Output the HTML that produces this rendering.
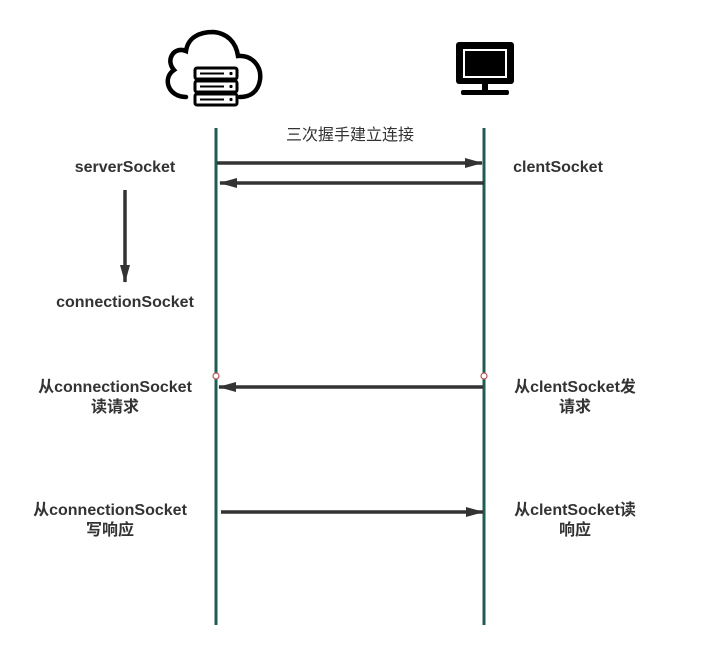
<!DOCTYPE html>
<html><head><meta charset="utf-8"><style>
body{margin:0;background:#fff;}
svg text{font-family:"Liberation Sans","Noto Sans CJK SC",sans-serif;font-size:16px;fill:#333;}
.b{font-weight:bold;}
</style></head><body>
<svg width="702" height="650" xmlns="http://www.w3.org/2000/svg">
<defs><marker id="a" markerWidth="18" markerHeight="12" refX="17" refY="6" orient="auto" markerUnits="userSpaceOnUse" viewBox="0 0 18 12"><path d="M0,1 L18,6 L0,11Z" fill="#333"/></marker>
<marker id="v" markerWidth="12" markerHeight="18" refX="6" refY="17" orient="0" markerUnits="userSpaceOnUse"><path d="M1,0 L11,0 L6,18Z" fill="#333"/></marker></defs>
<!-- cloud icon -->
<path d="M186,97 C168,97 162,78 174,70 C165,60 174,46 186,51 C188,37 200,32 213,32 C227,33 236,42 238,56 C252,55 262,66 260,80 C258,92 250,97 240,97" fill="none" stroke="#000" stroke-width="4.5" stroke-linecap="round"/>
<g fill="#fff" stroke="#000" stroke-width="3">
<rect x="195" y="68" width="42" height="11" rx="2"/>
<rect x="195" y="81" width="42" height="11" rx="2"/>
<rect x="195" y="94" width="42" height="11" rx="2"/>
</g>
<g stroke="#000" stroke-width="2"><line x1="200" y1="73.5" x2="224" y2="73.5"/><line x1="200" y1="86.5" x2="224" y2="86.5"/><line x1="200" y1="99.5" x2="224" y2="99.5"/></g>
<g fill="#000"><circle cx="231" cy="73.5" r="1.6"/><circle cx="231" cy="86.5" r="1.6"/><circle cx="231" cy="99.5" r="1.6"/></g>
<!-- monitor -->
<rect x="456" y="42" width="58" height="42" rx="3" fill="#000"/>
<rect x="464" y="50" width="42" height="27" fill="#000" stroke="#fff" stroke-width="2"/>
<rect x="482" y="84" width="6" height="7" fill="#000"/>
<rect x="461" y="90" width="48" height="5" rx="2" fill="#000"/>
<!-- lifelines -->
<line x1="216" y1="128" x2="216" y2="625" stroke="#1f5c55" stroke-width="3"/>
<line x1="484" y1="128" x2="484" y2="625" stroke="#1f5c55" stroke-width="3"/>
<g stroke="#333" stroke-width="3.5">
<line x1="217" y1="163" x2="482" y2="163" marker-end="url(#a)"/>
<line x1="484" y1="183" x2="220" y2="183" marker-end="url(#a)"/>
<line x1="483" y1="387" x2="219" y2="387" marker-end="url(#a)"/>
<line x1="221" y1="512" x2="483" y2="512" marker-end="url(#a)"/>
<line x1="125" y1="190" x2="125" y2="282" marker-end="url(#v)"/>
</g>
<circle cx="216" cy="376" r="3" fill="#fff" stroke="#b85450" stroke-width="1.2"/>
<circle cx="484" cy="376" r="3" fill="#fff" stroke="#b85450" stroke-width="1.2"/>
<text x="350" y="140" text-anchor="middle">三次握手建立连接</text>
<text class="b" x="125" y="172" text-anchor="middle">serverSocket</text>
<text class="b" x="558" y="172" text-anchor="middle">clentSocket</text>
<text class="b" x="125" y="307" text-anchor="middle">connectionSocket</text>
<text class="b" x="115" y="392" text-anchor="middle">从connectionSocket</text>
<text class="b" x="115" y="412" text-anchor="middle">读请求</text>
<text class="b" x="575" y="392" text-anchor="middle">从clentSocket发</text>
<text class="b" x="575" y="412" text-anchor="middle">请求</text>
<text class="b" x="110" y="515" text-anchor="middle">从connectionSocket</text>
<text class="b" x="110" y="535" text-anchor="middle">写响应</text>
<text class="b" x="575" y="515" text-anchor="middle">从clentSocket读</text>
<text class="b" x="575" y="535" text-anchor="middle">响应</text>
</svg>
</body></html>
